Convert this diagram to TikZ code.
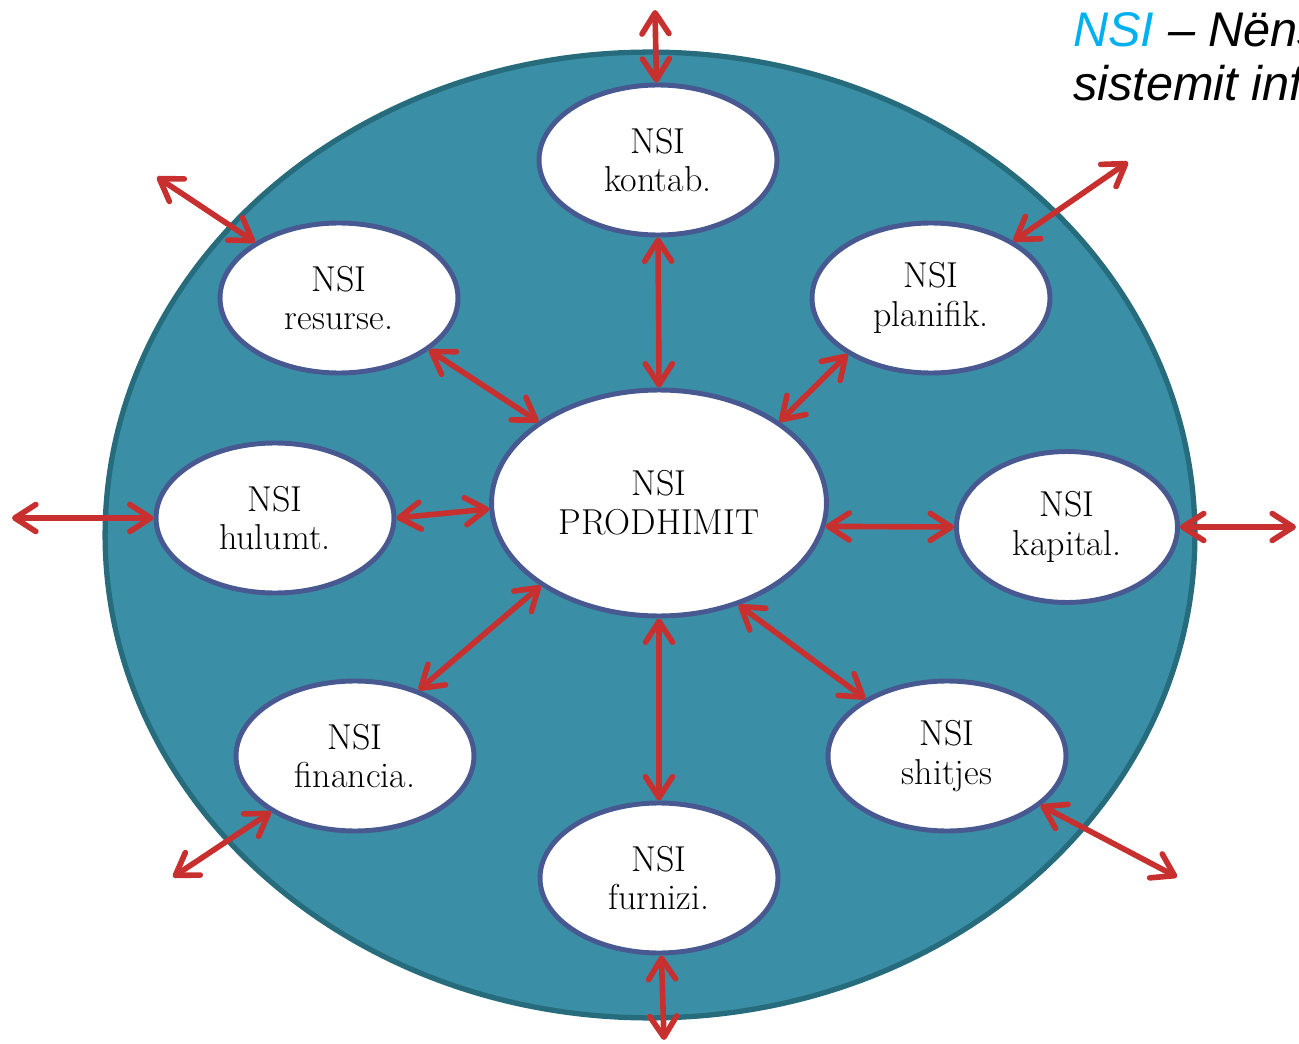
\documentclass[tikz,border=0pt]{standalone}
\usepackage{fontspec}
\newfontfamily\notefont{Liberation Sans}
\usetikzlibrary{shapes.geometric,arrows.meta}
\definecolor{discfill}{RGB}{58,143,166}
\definecolor{discrim}{RGB}{38,108,124}
\definecolor{ringblue}{RGB}{72,88,145}
\definecolor{linkred}{RGB}{200,48,48}
\definecolor{nsiblue}{RGB}{0,176,240}
\begin{document}
\begin{tikzpicture}[x=0.02cm,y=-0.02cm,
  sub/.style={ellipse, draw=ringblue, line width=2.8pt, fill=white, inner sep=0pt,
    minimum width=4.76cm, minimum height=3cm, align=center,
    font=\fontsize{20.5}{22}\selectfont},
  link/.style={draw=linkred, line width=3.2pt, line cap=round,
    {Straight Barb[length=4.2mm,width=5.4mm,round]}-{Straight Barb[length=4.2mm,width=5.4mm,round]}},
  note/.style={anchor=base west, inner sep=0pt, font=\notefont\itshape\fontsize{27.7}{30}\selectfont}]
\useasboundingbox (0,0) rectangle (1299,1044);
\clip (0,0) rectangle (1299,1044);

% large disc holding all subsystems
\node[ellipse, draw=discrim, line width=3pt, fill=discfill, inner sep=0pt,
  minimum width=21.8cm, minimum height=19.32cm] (disc) at (650,535) {};

% subsystems
\node[sub, minimum width=6.7cm, minimum height=4.52cm] (prod) at (659,503) {NSI\\PRODHIMIT};
\node[sub] (kont) at (658,160) {NSI\\kontab.};
\node[sub] (res) at (339,298) {NSI\\resurse.};
\node[sub] (plan) at (931,298) {NSI\\planifik.};
\node[sub] (hul) at (275,518) {NSI\\hulumt.};
\node[sub, minimum width=4.42cm, minimum height=3.02cm] (kap) at (1067,527) {NSI\\kapital.};
\node[sub] (fin) at (355,756) {NSI\\financia.};
\node[sub] (shit) at (947,756) {NSI\\shitjes};
\node[sub] (furn) at (659,878) {NSI\\furnizi.};

% links between production and the other subsystems
\draw[link] (kont.270) -- (prod.90);
\draw[link] (res.330) -- (prod.146);
\draw[link] (plan.214) -- (prod.34);
\draw[link] (hul.0) -- (prod.182);
\draw[link] (prod.352) -- (kap.180);
\draw[link] (prod.215) -- (fin.46);
\draw[link] (prod.270) -- (furn.90);
\draw[link] (prod.308) -- (shit.145);

% links leaving the system
\coordinate (kontOut) at (655,10);
\coordinate (resOut) at (157,177);
\coordinate (planOut) at (1128,162);
\coordinate (hulOut) at (12,518);
\coordinate (kapOut) at (1296,527);
\coordinate (finOut) at (173,877);
\coordinate (shitOut) at (1177,877);
\coordinate (furnOut) at (664,1040);
\draw[link] (kontOut) -- (kont);
\draw[link] (resOut) -- (res);
\draw[link] (planOut) -- (plan);
\draw[link] (hulOut) -- (hul);
\draw[link] (kap) -- (kapOut);
\draw[link] (finOut) -- (fin);
\draw[link] (shit) -- (shitOut);
\draw[link] (furn) -- (furnOut);

% note
\node[note] (note1) at (1073,47) {\textcolor{nsiblue}{NSI} – Nënsistemi};
\node[note] (note2) at (1073,101) {sistemit informativ};
\end{tikzpicture}
\end{document}
